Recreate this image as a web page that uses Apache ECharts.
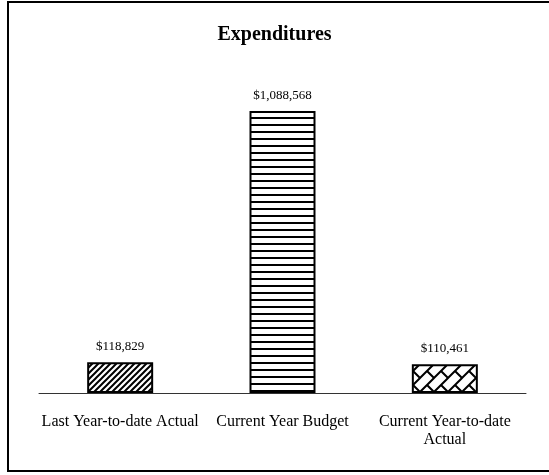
<!DOCTYPE html>
<html><head><meta charset="utf-8">
<script src="https://cdn.jsdelivr.net/npm/echarts@6/dist/echarts.min.js"></script>
<style>html,body{margin:0;padding:0;background:#fff}#c{width:549px;height:475px}</style>
</head><body><div id="c"></div>
<script>
const categories = ['Last Year-to-date Actual', 'Current Year Budget', 'Current Year-to-date\nActual'];
const values = [118829, 1088568, 110461];
const valueLabels = ['$118,829', '$1,088,568', '$110,461'];
const title = 'Expenditures';

function diagPattern() {
  const c = document.createElement('canvas'); c.width = 6; c.height = 6;
  const g = c.getContext('2d');
  g.fillStyle = '#fff'; g.fillRect(0,0,6,6);
  g.strokeStyle = '#000'; g.lineWidth = 2;
  g.beginPath();
  g.moveTo(-1,7); g.lineTo(7,-1);
  g.moveTo(-4,4); g.lineTo(4,-4);
  g.moveTo(2,10); g.lineTo(10,2);
  g.stroke();
  return c;
}
function horizPattern() {
  const c = document.createElement('canvas'); c.width = 8; c.height = 7;
  const g = c.getContext('2d');
  g.fillStyle = '#fff'; g.fillRect(0,0,8,7);
  g.fillStyle = '#000'; g.fillRect(0,5,8,2);
  return c;
}
function brickPattern() {
  const s = 14;
  const c = document.createElement('canvas'); c.width = s; c.height = s;
  const g = c.getContext('2d');
  g.fillStyle = '#fff'; g.fillRect(0,0,s,s);
  g.strokeStyle = '#000'; g.lineWidth = 2;
  g.beginPath();
  g.moveTo(-1,s+1); g.lineTo(s+1,-1);
  g.moveTo(-s/2-1, s/2+1); g.lineTo(s/2+1, -s/2-1);
  g.moveTo(s/2-1, s*1.5+1); g.lineTo(s*1.5+1, s/2-1);
  g.moveTo(s/2, s/2); g.lineTo(s, s);
  g.stroke();
  return c;
}
const patterns = [diagPattern(), horizPattern(), brickPattern()];

const chart = echarts.init(document.getElementById('c'));
chart.setOption({
  animation: false,
  backgroundColor: '#fff',
  title: {
    text: title, left: 'center', top: 20,
    textStyle: { fontFamily: 'Liberation Serif', fontWeight: 'bold', fontSize: 20, color: '#000' }
  },
  graphic: [{
    type: 'rect', shape: { x: 8, y: 2, width: 600, height: 469 },
    style: { fill: 'none', stroke: '#000', lineWidth: 2 }, silent: true, z: 100
  }],
  grid: { left: 39, right: 23, top: 82, bottom: 82 },
  xAxis: {
    type: 'category', data: categories,
    axisLine: { lineStyle: { color: '#333', width: 1 } },
    axisTick: { show: false },
    axisLabel: { fontFamily: 'Liberation Serif', fontSize: 16, color: '#000', margin: 20, lineHeight: 18, interval: 0 }
  },
  yAxis: { type: 'value', min: 0, max: 1200000, show: false, splitLine: { show: false } },
  series: [{
    type: 'bar', barWidth: 66,
    data: values.map((v, i) => ({
      value: v,
      itemStyle: { color: { image: patterns[i], repeat: 'repeat' }, borderColor: '#000', borderWidth: 2 }
    })),
    label: {
      show: true, position: 'top', distance: 9,
      formatter: p => valueLabels[p.dataIndex],
      fontFamily: 'Liberation Serif', fontSize: 13, color: '#000'
    }
  }]
});
</script></body></html>
